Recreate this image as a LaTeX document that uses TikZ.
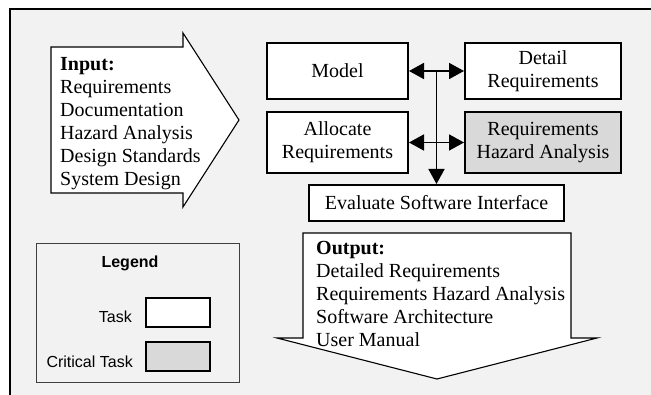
\documentclass[tikz,border=0pt]{standalone}
\usepackage{fontspec}
\setmainfont{Liberation Serif}
\setsansfont{Liberation Sans}
\usetikzlibrary{arrows.meta}
\definecolor{bggray}{HTML}{F2F2F2}
\definecolor{critgray}{HTML}{D9D9D9}
\begin{document}
\begin{tikzpicture}[x=1pt,y=-1pt,
  taskbox/.style={draw=black,line width=2pt,fill=white,align=center,inner sep=0pt,
    font=\fontsize{20}{23}\selectfont},
  critbox/.style={taskbox,fill=critgray},
  conn/.style={line width=1.7pt,-{Triangle[length=15pt,width=16pt]}},
  dconn/.style={line width=1.7pt,{Triangle[length=15pt,width=16pt]}-{Triangle[length=15pt,width=16pt]}},
  bigarrow/.style={draw=black,line width=1.1pt,fill=white,line join=miter},
  listtext/.style={align=left,inner sep=0pt,anchor=north west,font=\fontsize{20}{23}\selectfont},
  legtext/.style={font=\sffamily\fontsize{16}{19}\selectfont,inner sep=0pt}]
\useasboundingbox (0,0) rectangle (651,395);
\fill[white] (0,0) rectangle (651,395);
% frame
\begin{scope}
\clip (0,0) rectangle (651,395);
\draw[line width=2pt,fill=bggray] (10,9) rectangle (660,405);
\end{scope}
% input arrow
\draw[bigarrow] (51,47) -- (183,47) -- (183,33) -- (239,120) -- (183,207) -- (183,193) -- (51,193) -- cycle;
\node[listtext] (input) at (60,57) {\textbf{Input:}\\Requirements\\Documentation\\Hazard Analysis\\Design Standards\\System Design};
% output arrow
\draw[bigarrow] (303,233) -- (571,233) -- (571,338) -- (597,338) -- (437,379) -- (277,338) -- (303,338) -- cycle;
\node[listtext] (output) at (316,241) {\textbf{Output:}\\Detailed Requirements\\Requirements Hazard Analysis\\Software Architecture\\User Manual};
% boxes
\node[taskbox,minimum width=141pt,minimum height=56pt] (model) at (337.5,71) {Model};
\node[taskbox,minimum width=156pt,minimum height=56pt] (detail) at (543,71) {Detail\\Requirements};
\node[taskbox,minimum width=141pt,minimum height=61pt] (alloc) at (337.5,142.5) {Allocate\\Requirements};
\node[critbox,minimum width=156pt,minimum height=61pt] (rha) at (543,142.5) {Requirements\\Hazard Analysis};
\node[taskbox,minimum width=255pt,minimum height=36pt] (eval) at (436.5,203) {Evaluate Software Interface};
% connectors
\coordinate (jtop) at (eval.north |- model.east);
\draw[dconn] (model.east) -- (detail.west);
\draw[dconn] (alloc.east) -- (rha.west);
\draw[conn] (jtop) -- (eval.north);
% legend
\draw[draw=black!75,line width=0.8pt,fill=bggray] (36,243) rectangle (239,382);
\node[legtext,font=\sffamily\bfseries\fontsize{16}{19}\selectfont] (legend) at (130,263) {Legend};
\node[taskbox,minimum width=64pt,minimum height=29pt] (tbox) at (178,312.5) {};
\node[critbox,minimum width=64pt,minimum height=29pt] (cbox) at (178,356.5) {};
\node[legtext,anchor=east] (tlabel) at (132,317) {Task};
\node[legtext,anchor=east] (clabel) at (133,362) {Critical Task};
\end{tikzpicture}
\end{document}
